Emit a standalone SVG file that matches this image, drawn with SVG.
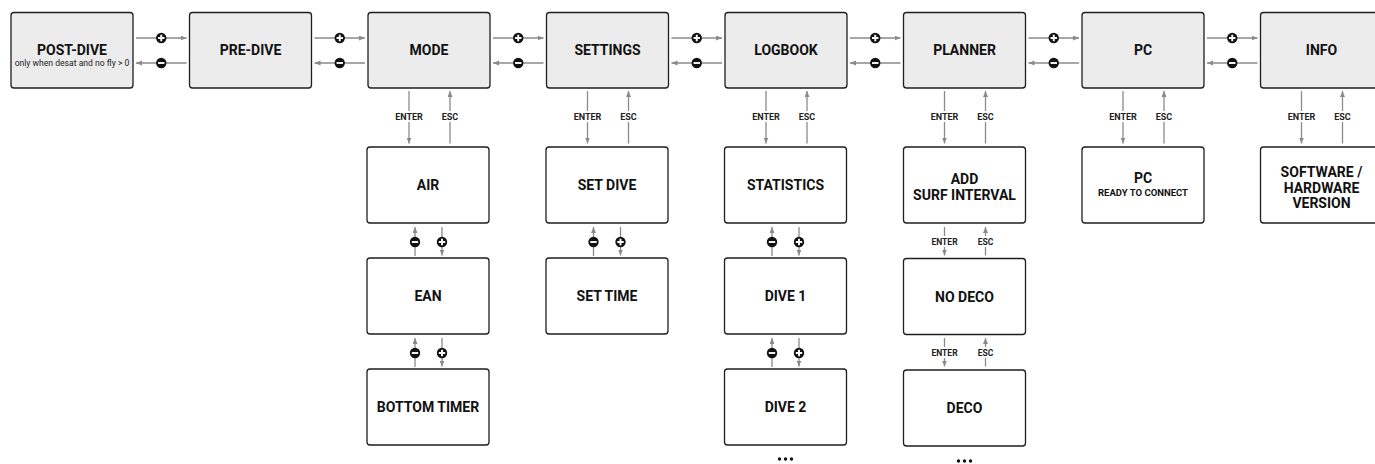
<svg xmlns="http://www.w3.org/2000/svg" xmlns:xlink="http://www.w3.org/1999/xlink" width="1375" height="464" viewBox="0 0 1375 464">
<style>
.top{fill:#ececec;stroke:#1e1e1e;stroke-width:1.3}
.sub{fill:#ffffff;stroke:#1e1e1e;stroke-width:1.3}
.t{font-family:Roboto,"Liberation Sans",sans-serif;font-weight:bold;font-size:14px;fill:#111;text-anchor:middle}
.s{font-family:Roboto,"Liberation Sans",sans-serif;font-size:8.6px;fill:#222;text-anchor:middle}
.r{font-family:Roboto,"Liberation Sans",sans-serif;font-weight:bold;font-size:9.5px;fill:#111;text-anchor:middle}
.l{font-family:Roboto,"Liberation Sans",sans-serif;font-weight:bold;font-size:9px;fill:#222;text-anchor:middle;stroke:#fff;stroke-width:4;paint-order:stroke;stroke-linejoin:round}
.c{stroke:#8a8a8a;stroke-width:1.3;fill:none;marker-end:url(#ah)}
</style>
<defs>
<marker id="ah" markerUnits="userSpaceOnUse" markerWidth="7" markerHeight="6" refX="6" refY="2.5" orient="auto">
<path d="M0,0 L6,2.5 L0,5 z" fill="#8a8a8a"/>
</marker>
<g id="plus"><circle r="5.2" fill="#111"/><path d="M-3.2,0 H3.2 M0,-3.2 V3.2" stroke="#fff" stroke-width="1.9"/></g>
<g id="minus"><circle r="5.2" fill="#111"/><path d="M-3.2,0 H3.2" stroke="#fff" stroke-width="1.9"/></g>
</defs>

<g id="connectors">
<path class="c" d="M136,38 H186.5"/><path class="c" d="M186.5,63 H136"/>
<path class="c" d="M314.5,38 H365"/><path class="c" d="M365,63 H314.5"/>
<path class="c" d="M493,38 H543.5"/><path class="c" d="M543.5,63 H493"/>
<path class="c" d="M671.5,38 H722"/><path class="c" d="M722,63 H671.5"/>
<path class="c" d="M850,38 H900.5"/><path class="c" d="M900.5,63 H850"/>
<path class="c" d="M1028.5,38 H1079"/><path class="c" d="M1079,63 H1028.5"/>
<path class="c" d="M1207,38 H1257.5"/><path class="c" d="M1257.5,63 H1207"/>
<use xlink:href="#plus" x="161.25" y="38"/><use xlink:href="#minus" x="161.25" y="63"/>
<use xlink:href="#plus" x="339.75" y="38"/><use xlink:href="#minus" x="339.75" y="63"/>
<use xlink:href="#plus" x="518.25" y="38"/><use xlink:href="#minus" x="518.25" y="63"/>
<use xlink:href="#plus" x="696.75" y="38"/><use xlink:href="#minus" x="696.75" y="63"/>
<use xlink:href="#plus" x="875.25" y="38"/><use xlink:href="#minus" x="875.25" y="63"/>
<use xlink:href="#plus" x="1053.75" y="38"/><use xlink:href="#minus" x="1053.75" y="63"/>
<use xlink:href="#plus" x="1232.25" y="38"/><use xlink:href="#minus" x="1232.25" y="63"/>

<path class="c" d="M409,91 V143.5"/><path class="c" d="M450,143.5 V91"/>
<text class="l" x="409" y="119.5">ENTER</text><text class="l" x="450" y="119.5">ESC</text>
<path class="c" d="M587.5,91 V143.5"/><path class="c" d="M628.5,143.5 V91"/>
<text class="l" x="587.5" y="119.5">ENTER</text><text class="l" x="628.5" y="119.5">ESC</text>
<path class="c" d="M766,91 V143.5"/><path class="c" d="M807,143.5 V91"/>
<text class="l" x="766" y="119.5">ENTER</text><text class="l" x="807" y="119.5">ESC</text>
<path class="c" d="M944.5,91 V143.5"/><path class="c" d="M985.5,143.5 V91"/>
<text class="l" x="944.5" y="119.5">ENTER</text><text class="l" x="985.5" y="119.5">ESC</text>
<path class="c" d="M1123,91 V143.5"/><path class="c" d="M1164,143.5 V91"/>
<text class="l" x="1123" y="119.5">ENTER</text><text class="l" x="1164" y="119.5">ESC</text>
<path class="c" d="M1301.5,91 V143.5"/><path class="c" d="M1342.5,143.5 V91"/>
<text class="l" x="1301.5" y="119.5">ENTER</text><text class="l" x="1342.5" y="119.5">ESC</text>

<path class="c" d="M415,256 V227"/><path class="c" d="M442,227 V255.5"/>
<use xlink:href="#minus" x="415" y="242"/><use xlink:href="#plus" x="442" y="242"/>
<path class="c" d="M415,367 V338"/><path class="c" d="M442,338 V366.5"/>
<use xlink:href="#minus" x="415" y="353"/><use xlink:href="#plus" x="442" y="353"/>
<path class="c" d="M593.5,256 V227"/><path class="c" d="M620.5,227 V255.5"/>
<use xlink:href="#minus" x="593.5" y="242"/><use xlink:href="#plus" x="620.5" y="242"/>
<path class="c" d="M772,256 V227"/><path class="c" d="M799,227 V255.5"/>
<use xlink:href="#minus" x="772" y="242"/><use xlink:href="#plus" x="799" y="242"/>
<path class="c" d="M772,367 V338"/><path class="c" d="M799,338 V366.5"/>
<use xlink:href="#minus" x="772" y="353"/><use xlink:href="#plus" x="799" y="353"/>
<path class="c" d="M944.5,227 V255.5"/><path class="c" d="M985.5,255.5 V227"/>
<text class="l" x="944.5" y="245" style="font-size:8.5px">ENTER</text><text class="l" x="985.5" y="245" style="font-size:8.5px">ESC</text>
<path class="c" d="M944.5,338 V366.5"/><path class="c" d="M985.5,366.5 V338"/>
<text class="l" x="944.5" y="356" style="font-size:8.5px">ENTER</text><text class="l" x="985.5" y="356" style="font-size:8.5px">ESC</text>
</g>

<g id="post-dive"><rect class="top" x="11" y="12.5" width="122" height="75.5" rx="3"/>
<text class="t" x="72" y="55">POST-DIVE</text><text class="s" x="72" y="66">only when desat and no fly &gt; 0</text></g>
<g id="pre-dive"><rect class="top" x="189.5" y="12.5" width="122" height="75.5" rx="3"/><text class="t" x="250.5" y="55">PRE-DIVE</text></g>
<g id="mode"><rect class="top" x="368" y="12.5" width="122" height="75.5" rx="3"/><text class="t" x="429" y="55">MODE</text></g>
<g id="settings"><rect class="top" x="546.5" y="12.5" width="122" height="75.5" rx="3"/><text class="t" x="607.5" y="55">SETTINGS</text></g>
<g id="logbook"><rect class="top" x="725" y="12.5" width="122" height="75.5" rx="3"/><text class="t" x="786" y="55">LOGBOOK</text></g>
<g id="planner"><rect class="top" x="903.5" y="12.5" width="122" height="75.5" rx="3"/><text class="t" x="964.5" y="55">PLANNER</text></g>
<g id="pc"><rect class="top" x="1082" y="12.5" width="122" height="75.5" rx="3"/><text class="t" x="1143" y="55">PC</text></g>
<g id="info"><rect class="top" x="1260.5" y="12.5" width="122" height="75.5" rx="3"/><text class="t" x="1321.5" y="55">INFO</text></g>

<g id="air"><rect class="sub" x="367" y="147" width="122" height="76" rx="3"/><text class="t" x="428" y="190">AIR</text></g>
<g id="ean"><rect class="sub" x="367" y="258" width="122" height="76" rx="3"/><text class="t" x="428" y="301">EAN</text></g>
<g id="bottom-timer"><rect class="sub" x="367" y="369" width="122" height="76" rx="3"/><text class="t" x="428" y="412">BOTTOM TIMER</text></g>
<g id="set-dive"><rect class="sub" x="546" y="147" width="122" height="76" rx="3"/><text class="t" x="607" y="190">SET DIVE</text></g>
<g id="set-time"><rect class="sub" x="546" y="258" width="122" height="76" rx="3"/><text class="t" x="607" y="301">SET TIME</text></g>
<g id="statistics"><rect class="sub" x="724.5" y="147" width="122" height="76" rx="3"/><text class="t" x="785.5" y="190">STATISTICS</text></g>
<g id="dive-1"><rect class="sub" x="724.5" y="258" width="122" height="76" rx="3"/><text class="t" x="785.5" y="301">DIVE 1</text></g>
<g id="dive-2"><rect class="sub" x="724.5" y="369" width="122" height="76" rx="3"/><text class="t" x="785.5" y="412">DIVE 2</text></g>
<g id="logbook-more" fill="#111"><circle cx="779.5" cy="459" r="1.7"/><circle cx="785.5" cy="459" r="1.7"/><circle cx="791.5" cy="459" r="1.7"/></g>
<g id="add-surf"><rect class="sub" x="903.5" y="147" width="122" height="76" rx="3"/><text class="t" x="964.5" y="184">ADD</text><text class="t" x="964.5" y="200">SURF INTERVAL</text></g>
<g id="no-deco"><rect class="sub" x="903.5" y="258.5" width="122" height="76" rx="3"/><text class="t" x="964.5" y="301.5">NO DECO</text></g>
<g id="deco"><rect class="sub" x="903.5" y="370" width="122" height="76" rx="3"/><text class="t" x="964.5" y="413">DECO</text></g>
<g id="planner-more" fill="#111"><circle cx="958.5" cy="461" r="1.7"/><circle cx="964.5" cy="461" r="1.7"/><circle cx="970.5" cy="461" r="1.7"/></g>
<g id="pc-ready"><rect class="sub" x="1082" y="147" width="122" height="76" rx="3"/><text class="t" x="1143" y="183">PC</text><text class="r" x="1143" y="196">READY TO CONNECT</text></g>
<g id="version"><rect class="sub" x="1260.5" y="147" width="122" height="76" rx="3"/><text class="t" x="1321.5" y="177">SOFTWARE /</text><text class="t" x="1321.5" y="192.5">HARDWARE</text><text class="t" x="1321.5" y="208">VERSION</text></g>
</svg>
